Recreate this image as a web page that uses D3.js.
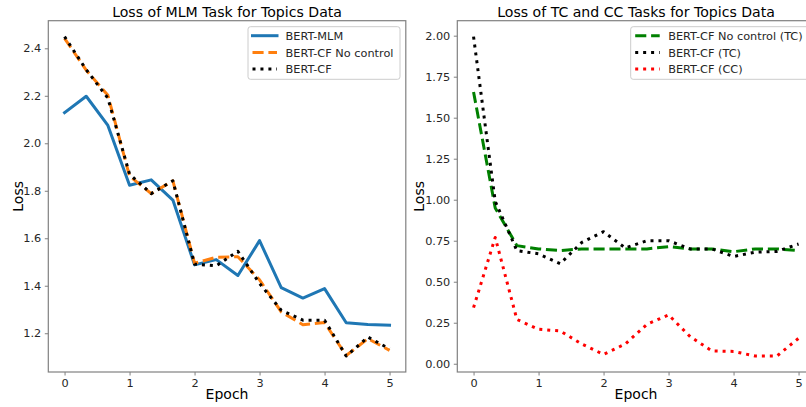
<!DOCTYPE html>
<html>
<head>
<meta charset="utf-8">
<script src="https://cdn.jsdelivr.net/npm/d3@7"></script>
<style>
  body { margin: 0; background: #fff; }
  svg { display: block; font-family: "DejaVu Sans", sans-serif; }
</style>
</head>
<body>
<svg id="chart" width="806" height="407"></svg>
<script>
// ---- data ----
const epochs = [0, 0.3333, 0.6667, 1, 1.3333, 1.6667, 2, 2.3333, 2.6667, 3, 3.3333, 3.6667, 4, 4.3333, 4.6667, 5];
const xTicks = [0, 1, 2, 3, 4, 5];

const mlmLoss = [2.129, 2.198, 2.075, 1.823, 1.846, 1.761, 1.488, 1.510, 1.443, 1.590, 1.392, 1.348, 1.388, 1.244, 1.237, 1.234];
const cfNoControlLoss = [2.442, 2.308, 2.202, 1.862, 1.788, 1.842, 1.495, 1.520, 1.522, 1.425, 1.290, 1.236, 1.245, 1.106, 1.177, 1.128];
const cfLoss = [2.449, 2.310, 2.190, 1.870, 1.788, 1.842, 1.491, 1.484, 1.545, 1.410, 1.297, 1.255, 1.255, 1.104, 1.184, 1.134];
const leftYTicks = [1.2, 1.4, 1.6, 1.8, 2.0, 2.2, 2.4];

const tcNoControlLoss = [1.657, 0.95, 0.72, 0.70, 0.69, 0.70, 0.70, 0.70, 0.70, 0.714, 0.70, 0.70, 0.683, 0.70, 0.70, 0.69];
const tcLoss = [1.994, 0.99, 0.69, 0.67, 0.61, 0.74, 0.805, 0.706, 0.75, 0.75, 0.70, 0.70, 0.654, 0.68, 0.685, 0.73];
const ccLoss = [0.342, 0.77, 0.27, 0.21, 0.20, 0.12, 0.057, 0.12, 0.24, 0.298, 0.165, 0.078, 0.075, 0.047, 0.047, 0.155];
const rightYTicks = [0, 0.25, 0.5, 0.75, 1.0, 1.25, 1.5, 1.75, 2.0];

const leftSeries = [
  { name: "BERT-MLM", values: mlmLoss, color: "#1f77b4", dash: null },
  { name: "BERT-CF No control", values: cfNoControlLoss, color: "#ff7f0e", dash: "11.1,4.8" },
  { name: "BERT-CF", values: cfLoss, color: "#000000", dash: "3,4.95" }
];
const rightSeries = [
  { name: "BERT-CF No control (TC)", values: tcNoControlLoss, color: "#008000", dash: "11.1,4.8" },
  { name: "BERT-CF (TC)", values: tcLoss, color: "#000000", dash: "3,4.95" },
  { name: "BERT-CF (CC)", values: ccLoss, color: "#ff0000", dash: "3,4.95" }
];

const svg = d3.select("#chart");

function panel(opts) {
  const { left, right, top, bottom, series, yTicks, yFmt, title, legendX, legendW, ylabelX } = opts;
  const g = svg.append("g");

  const allVals = series.flatMap(s => s.values);
  const [mn, mx] = d3.extent(allVals);
  const pad = (mx - mn) * 0.05;
  const x = d3.scaleLinear().domain([-0.25, 5.25]).range([left, right]);
  const y = d3.scaleLinear().domain([mn - pad, mx + pad]).range([bottom, top]);

  const clipId = "clip" + Math.round(left);
  svg.append("clipPath").attr("id", clipId).append("rect")
    .attr("x", left).attr("y", top).attr("width", right - left).attr("height", bottom - top);

  const line = d3.line().x((d, i) => x(epochs[i])).y(d => y(d));
  const lines = g.append("g").attr("clip-path", `url(#${clipId})`);
  series.forEach(s => {
    lines.append("path")
      .attr("d", line(s.values))
      .attr("fill", "none")
      .attr("stroke", s.color)
      .attr("stroke-width", 3)
      .attr("stroke-linejoin", "round")
      .attr("stroke-linecap", s.dash ? "butt" : "square")
      .attr("stroke-dasharray", s.dash);
  });

  // axes
  const xAxis = d3.axisBottom(x).tickValues(xTicks).tickFormat(d3.format("d")).tickSizeOuter(0).tickSize(3.5).tickPadding(3.5);
  const yAxis = d3.axisLeft(y).tickValues(yTicks).tickFormat(yFmt).tickSizeOuter(0).tickSize(3.5).tickPadding(3.5);
  const gx = g.append("g").attr("transform", `translate(0,${bottom})`).call(xAxis);
  const gy = g.append("g").attr("transform", `translate(${left},0)`).call(yAxis);
  [gx, gy].forEach(a => {
    a.select(".domain").remove();
    a.selectAll(".tick line").attr("stroke", "#808080").attr("stroke-width", 1);
    a.selectAll(".tick text").attr("fill", "#262626").attr("font-size", 11.3).attr("font-family", "DejaVu Sans");
  });

  // spines
  g.append("rect").attr("x", left).attr("y", top).attr("width", right - left).attr("height", bottom - top)
    .attr("fill", "none").attr("stroke", "#808080").attr("stroke-width", 1.2);

  // title & labels
  g.append("text").attr("x", (left + right) / 2).attr("y", 16.5).attr("text-anchor", "middle")
    .attr("font-size", 14.1).attr("fill", "#000").text(title);
  g.append("text").attr("x", (left + right) / 2).attr("y", 398.5).attr("text-anchor", "middle")
    .attr("font-size", 14).attr("fill", "#000").text("Epoch");
  g.append("text").attr("transform", `translate(${ylabelX},${(top + bottom) / 2}) rotate(-90)`)
    .attr("text-anchor", "middle").attr("font-size", 14).attr("fill", "#000").text("Loss");

  // legend
  const lg = g.append("g");
  lg.append("rect").attr("x", legendX).attr("y", 26.7).attr("width", legendW).attr("height", 52.6)
    .attr("rx", 2.5).attr("fill", "#fff").attr("fill-opacity", 0.8).attr("stroke", "#cccccc").attr("stroke-width", 1);
  series.forEach((s, i) => {
    const yy = 35.7 + i * 16.7;
    lg.append("line").attr("x1", legendX + 4.5).attr("x2", legendX + 29).attr("y1", yy).attr("y2", yy)
      .attr("stroke", s.color).attr("stroke-width", 3).attr("stroke-dasharray", s.dash)
      .attr("stroke-linecap", s.dash ? "butt" : "square");
    lg.append("text").attr("x", legendX + 37.5).attr("y", yy + 4.2).attr("font-size", 11.3)
      .attr("fill", "#262626").text(s.name);
  });
}

panel({ left: 48.3, right: 405.8, top: 20.7, bottom: 372, series: leftSeries, yTicks: leftYTicks,
  yFmt: d3.format(".1f"), title: "Loss of MLM Task for Topics Data", legendX: 248, legendW: 152, ylabelX: 23.3 });
panel({ left: 457.3, right: 814.8, top: 20.7, bottom: 372, series: rightSeries, yTicks: rightYTicks,
  yFmt: d3.format(".2f"), title: "Loss of TC and CC Tasks for Topics Data", legendX: 630.7, legendW: 178, ylabelX: 424.3 });
</script>
</body>
</html>
